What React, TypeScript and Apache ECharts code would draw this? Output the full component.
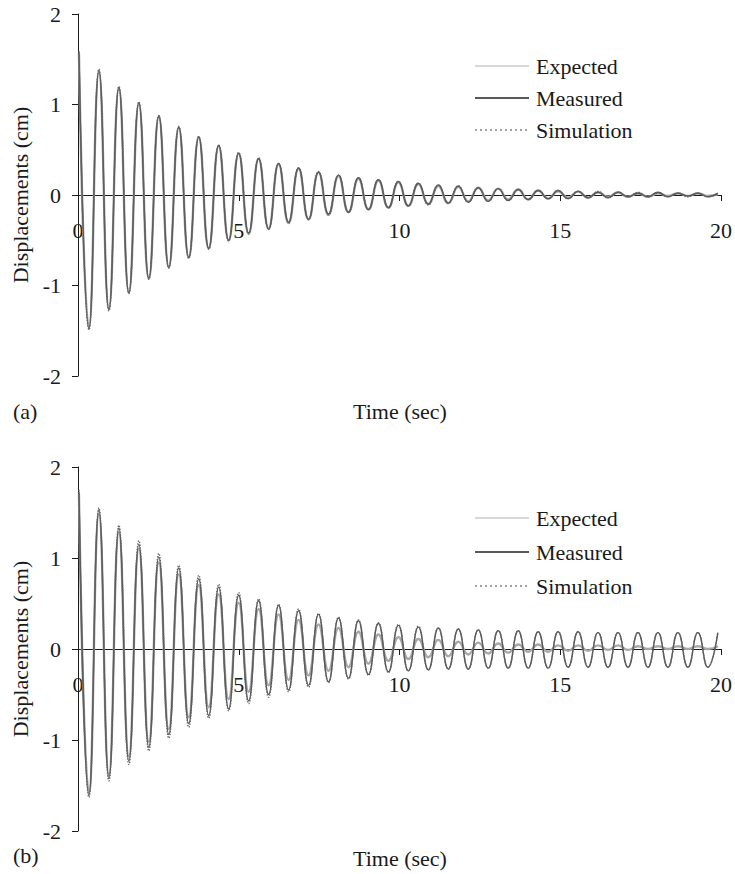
import React, { useEffect, useRef } from "react";
import * as echarts from "echarts";

// Time of first peak and half oscillation period (sec)
const T0 = 0.03;
const HALF = 0.3105;

const xTicks = [0, 5, 10, 15, 20];
const yTicks = [-2, -1, 0, 1, 2];

// Panel (a): successive peaks and troughs (cm)
const aMeasuredPeaks = [1.58, 1.38, 1.19, 1.02, 0.87, 0.75, 0.64, 0.55, 0.46, 0.40, 0.35, 0.30, 0.25, 0.22, 0.19, 0.17, 0.15, 0.13, 0.11, 0.10, 0.08, 0.07, 0.06, 0.05, 0.05, 0.04, 0.03, 0.03, 0.02, 0.03, 0.02, 0.02, 0.02];
const aMeasuredTroughs = [-1.48, -1.27, -1.08, -0.92, -0.80, -0.69, -0.59, -0.50, -0.42, -0.38, -0.30, -0.27, -0.21, -0.19, -0.16, -0.14, -0.12, -0.10, -0.09, -0.08, -0.07, -0.06, -0.05, -0.04, -0.04, -0.03, -0.03, -0.02, -0.02, -0.02, -0.01, -0.02];
const aExpectedPeaks = [1.56, 1.36, 1.18, 1.01, 0.87, 0.74, 0.64, 0.54, 0.46, 0.40, 0.34, 0.29, 0.25, 0.21, 0.18, 0.16, 0.14, 0.12, 0.10, 0.09, 0.08, 0.07, 0.06, 0.05, 0.04, 0.04, 0.03, 0.03, 0.02, 0.02, 0.02, 0.02, 0.01];
const aExpectedTroughs = [-1.47, -1.26, -1.08, -0.93, -0.80, -0.69, -0.59, -0.50, -0.43, -0.37, -0.31, -0.27, -0.22, -0.19, -0.16, -0.14, -0.12, -0.10, -0.09, -0.07, -0.06, -0.05, -0.05, -0.04, -0.03, -0.03, -0.02, -0.02, -0.02, -0.01, -0.01, -0.01];
const aSimulationPeaks = [1.59, 1.39, 1.20, 1.03, 0.88, 0.76, 0.65, 0.55, 0.47, 0.41, 0.35, 0.30, 0.26, 0.22, 0.19, 0.17, 0.15, 0.13, 0.11, 0.10, 0.08, 0.07, 0.06, 0.05, 0.05, 0.04, 0.04, 0.03, 0.03, 0.02, 0.02, 0.02, 0.02];
const aSimulationTroughs = [-1.49, -1.28, -1.09, -0.93, -0.81, -0.70, -0.60, -0.51, -0.43, -0.38, -0.31, -0.27, -0.22, -0.19, -0.16, -0.14, -0.12, -0.11, -0.09, -0.08, -0.07, -0.06, -0.05, -0.04, -0.04, -0.03, -0.03, -0.02, -0.02, -0.02, -0.02, -0.02];

// Panel (b): successive peaks and troughs (cm)
const bMeasuredPeaks = [1.73, 1.53, 1.33, 1.15, 1.01, 0.89, 0.77, 0.68, 0.59, 0.53, 0.48, 0.42, 0.38, 0.34, 0.31, 0.28, 0.26, 0.24, 0.23, 0.22, 0.21, 0.20, 0.20, 0.19, 0.19, 0.19, 0.18, 0.18, 0.18, 0.18, 0.18, 0.18, 0.18];
const bMeasuredTroughs = [-1.61, -1.42, -1.23, -1.08, -0.94, -0.82, -0.73, -0.66, -0.57, -0.50, -0.45, -0.40, -0.36, -0.32, -0.28, -0.25, -0.24, -0.23, -0.22, -0.22, -0.21, -0.21, -0.21, -0.21, -0.20, -0.20, -0.20, -0.20, -0.20, -0.20, -0.20, -0.20];
const bExpectedPeaks = [1.70, 1.48, 1.28, 1.10, 0.95, 0.82, 0.70, 0.60, 0.51, 0.44, 0.38, 0.32, 0.27, 0.23, 0.19, 0.16, 0.13, 0.11, 0.10, 0.08, 0.07, 0.06, 0.05, 0.05, 0.04, 0.04, 0.04, 0.04, 0.03, 0.03, 0.03, 0.03, 0.03];
const bExpectedTroughs = [-1.58, -1.38, -1.18, -1.02, -0.88, -0.75, -0.64, -0.55, -0.47, -0.40, -0.34, -0.29, -0.24, -0.20, -0.16, -0.13, -0.11, -0.09, -0.08, -0.06, -0.05, -0.04, -0.03, -0.03, -0.02, -0.02, -0.01, -0.01, 0.00, 0.00, 0.00, 0.00];
const bSimulationPeaks = [1.75, 1.55, 1.36, 1.19, 1.05, 0.92, 0.81, 0.71, 0.62, 0.55, 0.49, 0.44, 0.39, 0.35, 0.32, 0.29, 0.27, 0.25, 0.23, 0.22, 0.21, 0.20, 0.20, 0.19, 0.19, 0.19, 0.18, 0.18, 0.18, 0.18, 0.18, 0.18, 0.18];
const bSimulationTroughs = [-1.63, -1.45, -1.27, -1.12, -0.98, -0.86, -0.76, -0.68, -0.60, -0.53, -0.47, -0.42, -0.37, -0.33, -0.29, -0.26, -0.24, -0.23, -0.22, -0.22, -0.21, -0.21, -0.21, -0.21, -0.20, -0.20, -0.20, -0.20, -0.20, -0.20, -0.20, -0.20];

const seriesNames = ["Expected", "Measured", "Simulation"];

function build(peaks: number[], troughs: number[]): [number, number][] {
  const out: [number, number][] = [];
  const n = peaks.length + troughs.length;
  for (let i = 0; i < n; i++) {
    const v = i % 2 === 0 ? peaks[i / 2] : troughs[(i - 1) / 2];
    out.push([+(T0 + i * HALF).toFixed(4), v]);
  }
  return out;
}

const FONT = "'Liberation Serif', 'Times New Roman', serif";
const INK = "#1a1a1a";

const styles: Record<string, any> = {
  Expected: { color: "#a8a8a8", width: 2.4, type: "solid" },
  Measured: { color: "#555555", width: 1.4, type: "solid" },
  Simulation: { color: "#666666", width: 1.4, type: "dotted" },
};
const legendStyles: Record<string, any> = {
  Expected: { stroke: "#b0b0b0", lineWidth: 1.2 },
  Measured: { stroke: "#222222", lineWidth: 1.3 },
  Simulation: { stroke: "#444444", lineWidth: 1.2, lineDash: [2, 3] },
};

export default function App() {
  const ref = useRef<HTMLDivElement>(null);
  useEffect(() => {
    if (!ref.current) return;
    const chart = echarts.init(ref.current, undefined, { renderer: "svg" });

    const xAxis = (gi: number, off: number) => ({
      type: "value",
      gridIndex: gi,
      min: 0,
      max: 20,
      interval: 5,
      position: "bottom",
      offset: off,
      axisLine: { onZero: false, lineStyle: { color: INK, width: 1 } },
      axisTick: { show: true, length: 6, lineStyle: { color: INK } },
      axisLabel: {
        margin: 24,
        fontFamily: FONT,
        fontSize: 22,
        color: INK,
        formatter: (v: number) => (xTicks.includes(v) ? String(v) : ""),
      },
      splitLine: { show: false },
    });
    const yAxis = (gi: number) => ({
      type: "value",
      gridIndex: gi,
      min: -2,
      max: 2,
      interval: 1,
      name: "Displacements (cm)",
      nameLocation: "middle",
      nameGap: 46,
      nameRotate: 90,
      nameTextStyle: { fontFamily: FONT, fontSize: 22, color: INK },
      axisLine: { show: true, lineStyle: { color: INK, width: 1 } },
      axisTick: { show: true, length: 6, lineStyle: { color: INK } },
      axisLabel: {
        margin: 17,
        fontFamily: FONT,
        fontSize: 22,
        color: INK,
        formatter: (v: number) => (yTicks.includes(v) ? String(v) : ""),
      },
      splitLine: { show: false },
    });

    const panelData: Record<string, [number[], number[]]>[] = [
      {
        Expected: [aExpectedPeaks, aExpectedTroughs],
        Measured: [aMeasuredPeaks, aMeasuredTroughs],
        Simulation: [aSimulationPeaks, aSimulationTroughs],
      },
      {
        Expected: [bExpectedPeaks, bExpectedTroughs],
        Measured: [bMeasuredPeaks, bMeasuredTroughs],
        Simulation: [bSimulationPeaks, bSimulationTroughs],
      },
    ];

    const series: any[] = [];
    panelData.forEach((pd, gi) => {
      seriesNames.forEach((name) => {
        series.push({
          type: "line",
          name,
          xAxisIndex: gi,
          yAxisIndex: gi,
          data: build(pd[name][0], pd[name][1]),
          symbol: "none",
          smooth: 0.5,
          lineStyle: styles[name],
          itemStyle: { color: styles[name].color },
          z: name === "Expected" ? 2 : name === "Measured" ? 3 : 4,
        });
      });
    });

    const legendItems = (ys: number[]) =>
      seriesNames.flatMap((name, i) => [
        {
          type: "line",
          shape: { x1: 475, y1: ys[i], x2: 529, y2: ys[i] },
          style: legendStyles[name],
        },
        {
          type: "text",
          x: 536,
          y: ys[i],
          style: { text: name, font: `22px ${FONT}`, fill: INK, textVerticalAlign: "middle" },
        },
      ]);

    chart.setOption({
      animation: false,
      backgroundColor: "#ffffff",
      grid: [
        { left: 78, right: 13, top: 14, height: 362 },
        { left: 78, right: 13, top: 467, height: 364 },
      ],
      xAxis: [xAxis(0, -181), xAxis(1, -182)],
      yAxis: [yAxis(0), yAxis(1)],
      series,
      graphic: [
        ...legendItems([66, 98, 130]),
        ...legendItems([518, 552, 586]),
        { type: "text", x: 13, y: 411, style: { text: "(a)", font: `22px ${FONT}`, fill: INK, textVerticalAlign: "middle" } },
        { type: "text", x: 400, y: 411, style: { text: "Time (sec)", font: `22px ${FONT}`, fill: INK, textAlign: "center", textVerticalAlign: "middle" } },
        { type: "text", x: 13, y: 855, style: { text: "(b)", font: `22px ${FONT}`, fill: INK, textVerticalAlign: "middle" } },
        { type: "text", x: 400, y: 858, style: { text: "Time (sec)", font: `22px ${FONT}`, fill: INK, textAlign: "center", textVerticalAlign: "middle" } },
      ],
    });
    return () => chart.dispose();
  }, []);
  return (
    <div
      ref={ref}
      style={{ position: "absolute", left: 0, top: 0, width: 735, height: 874, background: "#fff" }}
    />
  );
}
